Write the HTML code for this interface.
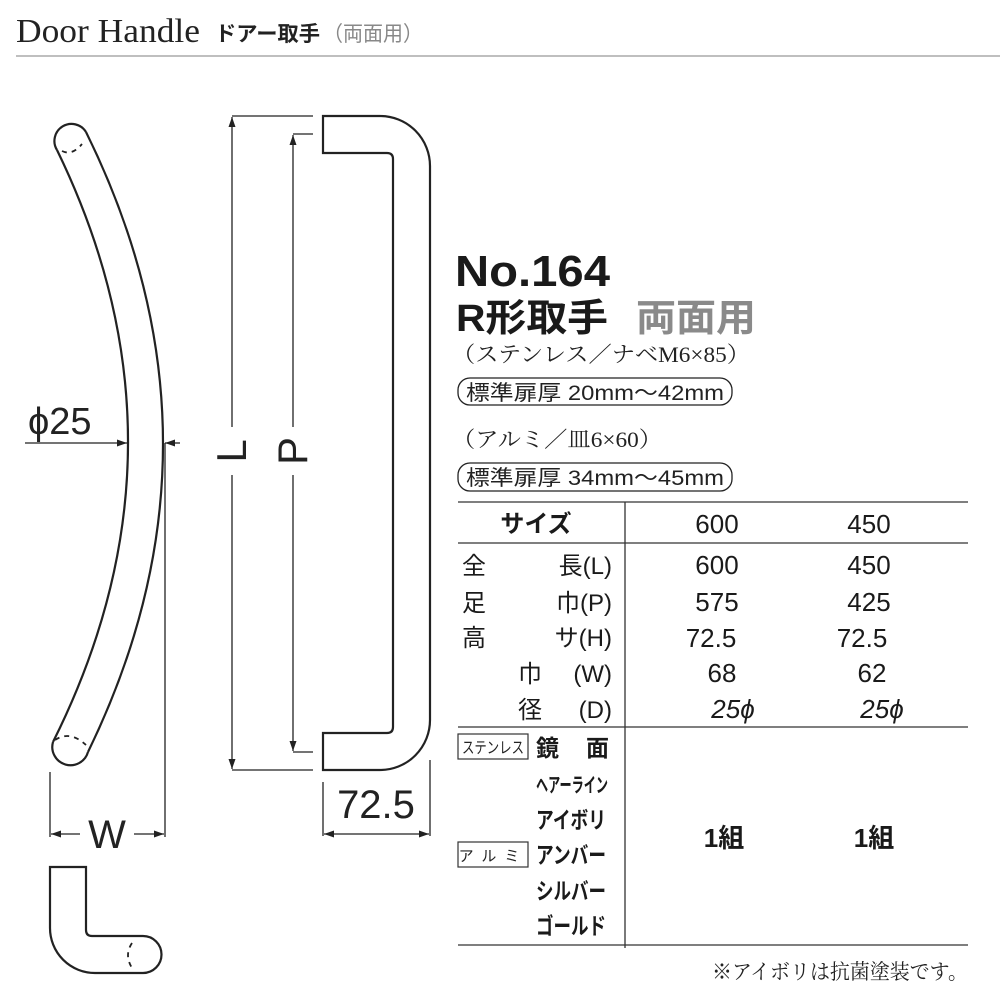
<!DOCTYPE html>
<html><head><meta charset="utf-8"><style>
body{margin:0;background:#fff}
svg{display:block}
.s{font-family:"Liberation Sans","Noto Sans CJK JP",sans-serif}
.sf{font-family:"Liberation Serif","Noto Serif CJK SC",serif}
</style></head><body>
<svg width="1000" height="1000" viewBox="0 0 1000 1000" xmlns="http://www.w3.org/2000/svg">
<defs>
<marker id="a" viewBox="0 0 10 10" refX="10" refY="5" markerWidth="10" markerHeight="10" markerUnits="userSpaceOnUse" orient="auto-start-reverse"><path d="M0,1.5 L10,5 L0,8.5 Z" fill="#222"/></marker>
</defs>
<!-- header -->
<text x="16" y="42" class="sf" font-size="34" fill="#222" textLength="184" lengthAdjust="spacingAndGlyphs">Door Handle</text>
<text x="215" y="41" class="s" font-size="21" font-weight="bold" fill="#222" textLength="105" lengthAdjust="spacingAndGlyphs">ドアー取手</text>
<text x="323" y="41" class="s" font-size="21" fill="#888" textLength="100" lengthAdjust="spacingAndGlyphs">（両面用）</text>
<line x1="16" y1="56" x2="1000" y2="56" stroke="#aaa" stroke-width="1.5"/>

<g fill="none" stroke="#222" stroke-width="2.2">
<path d="M57,150 Q201,446 53,742"/>
<path d="M86,132 Q239,442 88,752"/>
<path d="M57,150 A17,17 0 1 1 86,132"/>
<path d="M53,742 A18,18 0 1 0 88,752"/>
<path d="M62,151 Q72,156 82,144" stroke-dasharray="5,5" stroke-width="1.8"/>
<path d="M55,740 Q70,730 86,745" stroke-dasharray="5,5" stroke-width="1.8"/>
<path d="M50,867 H86 V930 Q86,936 92,936 H143 A18,18 0 0 1 143,973 H95 A45,45 0 0 1 50,928 Z"/>
<path d="M132,943 Q124,955 132,968" stroke-dasharray="5,5" stroke-width="1.8"/>
<path d="M323,116 H380 A50,50 0 0 1 430,166 V720 A50,50 0 0 1 380,770 H323 V733 H387 Q393,733 393,727 V159 Q393,153 387,153 H323 Z"/>
</g>
<g stroke="#222" stroke-width="1.3" fill="none">
<line x1="25" y1="443" x2="127" y2="443" marker-end="url(#a)"/>
<line x1="180" y1="443" x2="165" y2="443" marker-end="url(#a)"/>
<line x1="50" y1="772" x2="50" y2="837"/>
<line x1="165" y1="443" x2="165" y2="837"/>
<line x1="80" y1="834" x2="51" y2="834" marker-end="url(#a)"/>
<line x1="134" y1="834" x2="164" y2="834" marker-end="url(#a)"/>
<line x1="232" y1="116" x2="313" y2="116"/>
<line x1="232" y1="770" x2="313" y2="770"/>
<line x1="232" y1="427" x2="232" y2="117" marker-end="url(#a)"/>
<line x1="232" y1="475" x2="232" y2="769" marker-end="url(#a)"/>
<line x1="293" y1="134" x2="313" y2="134"/>
<line x1="293" y1="752" x2="313" y2="752"/>
<line x1="293" y1="427" x2="293" y2="135" marker-end="url(#a)"/>
<line x1="293" y1="475" x2="293" y2="751" marker-end="url(#a)"/>
<line x1="323" y1="782" x2="323" y2="836"/>
<line x1="430" y1="760" x2="430" y2="836"/>
<line x1="376" y1="834" x2="324" y2="834" marker-end="url(#a)"/>
<line x1="376" y1="834" x2="429" y2="834" marker-end="url(#a)"/>
</g>
<g class="s" fill="#222">
<text x="28" y="434" font-size="38">ϕ25</text>
<text x="107" y="848" font-size="40" text-anchor="middle">W</text>
<text x="376" y="818" font-size="40" text-anchor="middle">72.5</text>
<text transform="translate(246,451) rotate(-90)" font-size="42" text-anchor="middle">L</text>
<text transform="translate(307,451) rotate(-90)" font-size="42" text-anchor="middle">P</text>
</g>

<g class="s" fill="#1a1a1a">
<text x="455" y="286" font-size="44" font-weight="bold" textLength="155" lengthAdjust="spacingAndGlyphs">No.164</text>
<text x="456" y="331" font-size="38" font-weight="bold" textLength="152" lengthAdjust="spacingAndGlyphs">R形取手</text>
<text x="636" y="331" font-size="38" font-weight="bold" fill="#8a8a8a" textLength="120" lengthAdjust="spacingAndGlyphs">両面用</text>
</g>
<text x="452" y="362" class="sf" font-size="22" fill="#222" textLength="298" lengthAdjust="spacingAndGlyphs">（ステンレス／ナベM6×85）</text>
<rect x="458" y="378" width="274" height="27" rx="12" fill="none" stroke="#222" stroke-width="1.3"/>
<text x="466" y="400" class="s" font-size="21" fill="#222" textLength="258" lengthAdjust="spacingAndGlyphs">標準扉厚  20mm～42mm</text>
<text x="452" y="447" class="sf" font-size="22" fill="#222" textLength="210" lengthAdjust="spacingAndGlyphs">（アルミ／皿6×60）</text>
<rect x="458" y="463" width="274" height="28" rx="12" fill="none" stroke="#222" stroke-width="1.3"/>
<text x="466" y="485" class="s" font-size="21" fill="#222" textLength="258" lengthAdjust="spacingAndGlyphs">標準扉厚  34mm～45mm</text>

<g stroke="#333" stroke-width="1.3">
<line x1="458" y1="502" x2="968" y2="502"/>
<line x1="458" y1="543" x2="968" y2="543"/>
<line x1="458" y1="727" x2="968" y2="727"/>
<line x1="458" y1="945" x2="968" y2="945"/>
<line x1="625" y1="502" x2="625" y2="948"/>
</g>
<g class="s" font-size="26" fill="#1a1a1a">
<text x="536" y="532" text-anchor="middle" font-weight="bold" font-size="24">サイズ</text>
<text x="717" y="533" text-anchor="middle">600</text>
<text x="869" y="533" text-anchor="middle">450</text>
<g font-size="24">
<text x="462" y="574">全</text><text x="612" y="574" text-anchor="end">長(L)</text>
<text x="462" y="611">足</text><text x="612" y="611" text-anchor="end">巾(P)</text>
<text x="462" y="646">高</text><text x="612" y="646" text-anchor="end">サ(H)</text>
<text x="518" y="682">巾</text><text x="612" y="682" text-anchor="end">(W)</text>
<text x="518" y="718">径</text><text x="612" y="718" text-anchor="end">(D)</text>
</g>
<g text-anchor="middle">
<text x="717" y="574">600</text><text x="869" y="574">450</text>
<text x="717" y="611">575</text><text x="869" y="611">425</text>
<text x="711" y="647">72.5</text><text x="862" y="647">72.5</text>
<text x="722" y="682">68</text><text x="872" y="682">62</text>
<text x="733" y="718" font-style="italic">25ϕ</text><text x="882" y="718" font-style="italic">25ϕ</text>
<text x="724" y="847" font-weight="bold">1組</text><text x="874" y="847" font-weight="bold">1組</text>
</g>
<g font-weight="bold" font-size="23">
<text x="536" y="756">鏡</text><text x="586" y="756">面</text>
<text x="536" y="792" font-size="20" textLength="72" lengthAdjust="spacingAndGlyphs">ヘアーライン</text>
<text x="536" y="828" textLength="70" lengthAdjust="spacingAndGlyphs">アイボリ</text>
<text x="536" y="863" textLength="70" lengthAdjust="spacingAndGlyphs">アンバー</text>
<text x="536" y="899" textLength="70" lengthAdjust="spacingAndGlyphs">シルバー</text>
<text x="536" y="934" textLength="70" lengthAdjust="spacingAndGlyphs">ゴールド</text>
</g>
</g>
<rect x="458" y="734" width="70" height="25" fill="none" stroke="#333" stroke-width="1.2"/>
<text x="462" y="753" class="s" font-size="16" fill="#222" textLength="62" lengthAdjust="spacingAndGlyphs">ステンレス</text>
<rect x="458" y="842" width="70" height="25" fill="none" stroke="#333" stroke-width="1.2"/>
<text x="493" y="861" class="s" font-size="15" text-anchor="middle" fill="#222" letter-spacing="8">アルミ</text>
<text x="968" y="979" class="sf" font-size="21" text-anchor="end" fill="#222" textLength="256" lengthAdjust="spacingAndGlyphs">※アイボリは抗菌塗装です。</text>
</svg>
</body></html>
